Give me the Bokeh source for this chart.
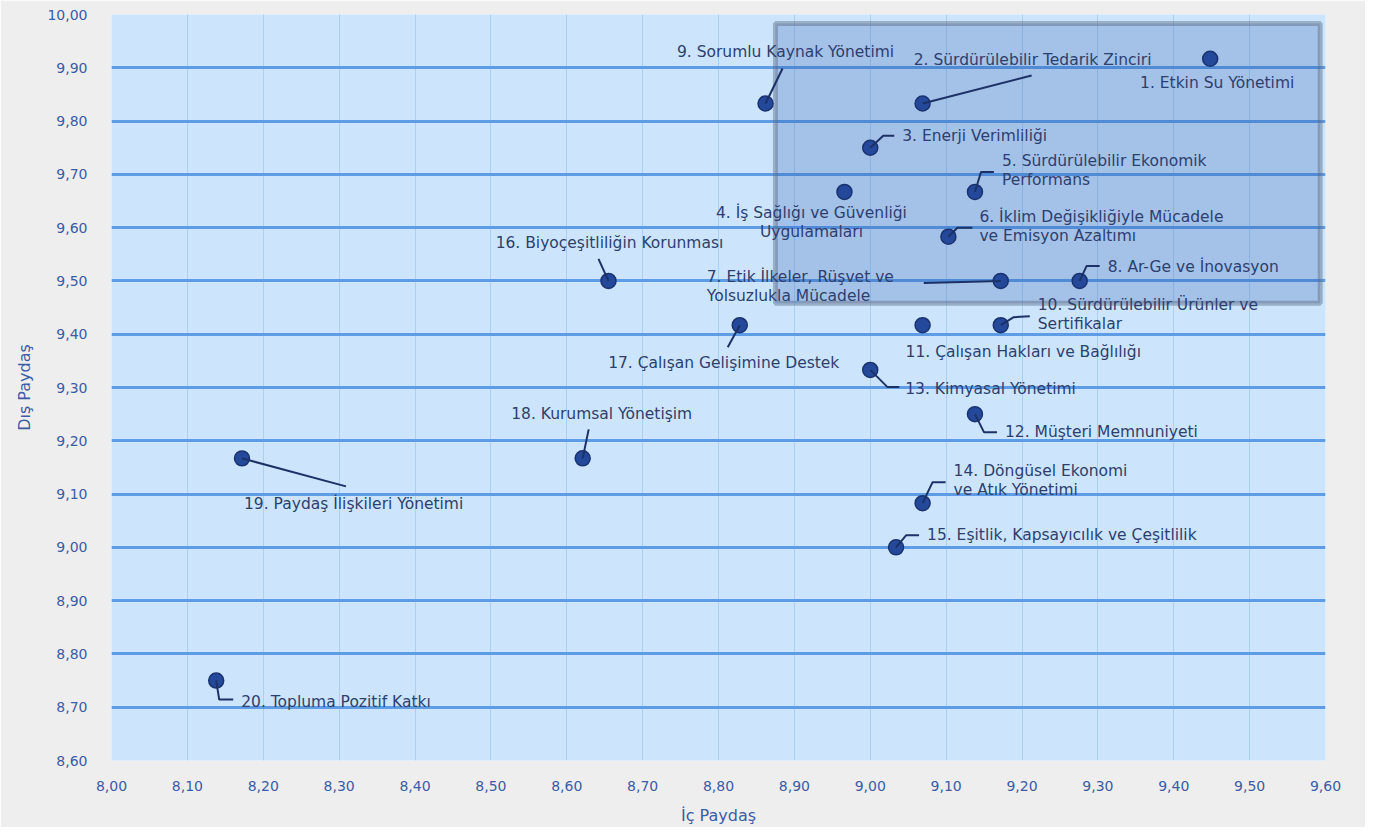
from bokeh.plotting import figure
from bokeh.models import Range1d, FixedTicker, CustomJSTickFormatter
from bokeh.core.properties import value
from bokeh.embed import file_html
from bokeh.resources import INLINE

# ---------------- data ----------------
names = [
    ["1. Etkin Su Yönetimi"],
    ["2. Sürdürülebilir Tedarik Zinciri"],
    ["3. Enerji Verimliliği"],
    ["4. İş Sağlığı ve Güvenliği", "Uygulamaları"],
    ["5. Sürdürülebilir Ekonomik", "Performans"],
    ["6. İklim Değişikliğiyle Mücadele", "ve Emisyon Azaltımı"],
    ["7. Etik İlkeler, Rüşvet ve", "Yolsuzlukla Mücadele"],
    ["8. Ar-Ge ve İnovasyon"],
    ["9. Sorumlu Kaynak Yönetimi"],
    ["10. Sürdürülebilir Ürünler ve", "Sertifikalar"],
    ["11. Çalışan Hakları ve Bağlılığı"],
    ["12. Müşteri Memnuniyeti"],
    ["13. Kimyasal Yönetimi"],
    ["14. Döngüsel Ekonomi", "ve Atık Yönetimi"],
    ["15. Eşitlik, Kapsayıcılık ve Çeşitlilik"],
    ["16. Biyoçeşitliliğin Korunması"],
    ["17. Çalışan Gelişimine Destek"],
    ["18. Kurumsal Yönetişim"],
    ["19. Paydaş İlişkileri Yönetimi"],
    ["20. Topluma Pozitif Katkı"],
]
ic_paydas = [9.448, 9.069, 9.000, 8.966, 9.138, 9.103, 9.172, 9.276, 8.862, 9.172,
             9.069, 9.138, 9.000, 9.069, 9.034, 8.655, 8.828, 8.621, 8.172, 8.138]
dis_paydas = [9.917, 9.833, 9.750, 9.667, 9.667, 9.583, 9.500, 9.500, 9.833, 9.417,
              9.417, 9.250, 9.333, 9.083, 9.000, 9.500, 9.417, 9.167, 9.167, 8.750]

x_ticks = [round(8.0 + 0.1 * i, 2) for i in range(17)]
y_ticks = [round(8.6 + 0.1 * i, 2) for i in range(15)]

# ---------------- layout (screen-pixel offsets of labels / leader lines) ----------------
label_layout = [
    ("center", 7, 24, []),
    ("center", 110, -43, [(109, -28)]),
    ("left", 32, -12, [(13, -12), (24, -12)]),
    ("center", -33, 21, []),
    ("left", 27, -31, [(6, -20), (19, -20)]),
    ("left", 31, -20, [(9, -9), (24, -9)]),
    ("left", -294, -4, [(-77, 2)]),
    ("left", 28, -14, [(7, -15), (20, -15)]),
    ("center", 20, -51, [(17, -35)]),
    ("left", 37, -20, [(13, -8), (29, -9)]),
    ("left", -17, 27, []),
    ("left", 30, 18, [(9, 18), (22, 18)]),
    ("left", 35, 19, [(17, 17), (29, 17)]),
    ("left", 31, -32, [(10, -21), (23, -21)]),
    ("left", 31, -12, [(10, -12), (23, -12)]),
    ("center", 1, -38, [(-10, -22)]),
    ("center", -16, 38, [(-12, 22)]),
    ("center", 19, -44, [(6, -29)]),
    ("left", 2, 46, [(104, 28)]),
    ("left", 25, 21, [(3, 19), (17, 19)]),
]
LINE_STEP = 19

FW, FH = 1214, 746
X0, X1, Y0, Y1 = 8.0, 9.6, 8.6, 10.0
kx = FW / (X1 - X0)
ky = FH / (Y1 - Y0)

FONT = "DejaVu Sans"
LABEL_COLOR = "#2d3f6f"
TICK_COLOR = "#3b5ca6"

p = figure(
    frame_width=FW, frame_height=FH,
    min_border_left=111, min_border_top=14, min_border_right=40, min_border_bottom=66,
    x_range=Range1d(X0, X1), y_range=Range1d(Y0, Y1),
    output_backend="svg", toolbar_location=None,
    background_fill_color="#cce5fd", border_fill_color="#eeeeee",
)
p.outline_line_color = None

# grids
p.ygrid.ticker = FixedTicker(ticks=y_ticks[1:])
p.ygrid.grid_line_color = "#5e9de6"
p.ygrid.grid_line_width = 3
p.xgrid.ticker = FixedTicker(ticks=x_ticks[1:])
p.xgrid.grid_line_color = "#a9cff4"
p.xgrid.grid_line_width = 1

fmt = CustomJSTickFormatter(code="return tick.toFixed(2).replace('.', ',');")
for ax, ticks in ((p.xaxis, x_ticks), (p.yaxis, y_ticks)):
    ax.ticker = FixedTicker(ticks=ticks)
    ax.formatter = fmt
    ax.axis_line_color = None
    ax.major_tick_line_color = None
    ax.minor_tick_line_color = None
    ax.major_label_text_font = FONT
    ax.major_label_text_font_size = "14px"
    ax.major_label_text_color = TICK_COLOR
    ax.axis_label_text_font = FONT
    ax.axis_label_text_font_size = "16px"
    ax.axis_label_text_font_style = "normal"
    ax.axis_label_text_color = TICK_COLOR
p.xaxis.axis_label = "İç Paydaş"
p.yaxis.axis_label = "Dış Paydaş"
p.xaxis.major_label_standoff = 14
p.yaxis.major_label_standoff = 18
p.xaxis.axis_label_standoff = 12
p.yaxis.axis_label_standoff = 10

# highlight zone
p.quad(left=8.875, right=9.593, bottom=9.458, top=9.983,
       fill_color="#2c59a9", fill_alpha=0.25,
       line_color="#5a6b85", line_alpha=0.45, line_width=5)

# points
p.scatter(ic_paydas, dis_paydas, size=15, fill_color="#24489a", line_color="#1a3370", line_width=1.5)

# leader lines + labels
lx, ly = [], []
tl = {"left": ([], [], []), "center": ([], [], [])}
for i, (align, dx, dy, leader) in enumerate(label_layout):
    x, y = ic_paydas[i], dis_paydas[i]
    if leader:
        xs = [x] + [x + a / kx for a, b in leader]
        ys = [y] + [y - b / ky for a, b in leader]
        lx.append(xs)
        ly.append(ys)
    for j, line in enumerate(names[i]):
        tx = x + dx / kx
        ty = y - (dy + j * LINE_STEP) / ky
        tl[align][0].append(tx)
        tl[align][1].append(ty)
        tl[align][2].append(line)

p.multi_line(lx, ly, line_color="#1c3266", line_width=2)
for align, (xs, ys, ts) in tl.items():
    p.text(xs, ys, text=ts, text_align=align, text_baseline="middle",
           text_font=value(FONT), text_font_size="15.5px", text_color=LABEL_COLOR)

open("out.html", "w").write(file_html(p, INLINE))
